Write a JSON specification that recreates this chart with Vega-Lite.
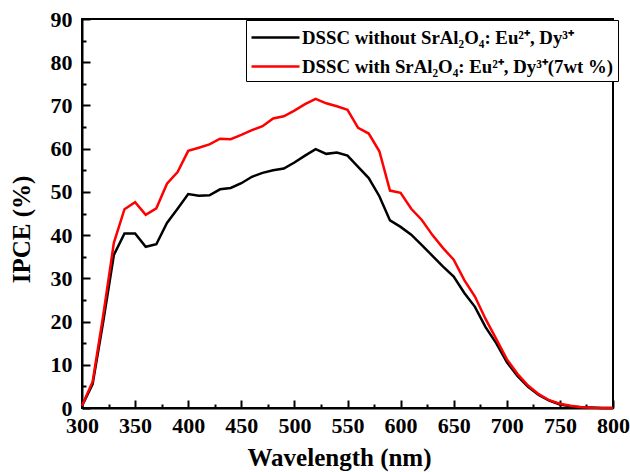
{
  "$schema": "https://vega.github.io/schema/vega-lite/v6.json",
  "width": 531,
  "height": 389,
  "autosize": {"type": "none"},
  "padding": {"left": 82, "top": 19, "right": 17, "bottom": 64},
  "background": "white",
  "config": {
    "view": {"stroke": "black", "strokeWidth": 2},
    "font": "Liberation Serif"
  },
  "datasets": {
    "ipce": [
      {"wl": 300, "v": 0.5, "s": "DSSC without SrAl₂O₄: Eu²⁺, Dy³⁺"},
      {"wl": 310, "v": 5.5, "s": "DSSC without SrAl₂O₄: Eu²⁺, Dy³⁺"},
      {"wl": 320, "v": 20, "s": "DSSC without SrAl₂O₄: Eu²⁺, Dy³⁺"},
      {"wl": 330, "v": 35.4, "s": "DSSC without SrAl₂O₄: Eu²⁺, Dy³⁺"},
      {"wl": 340, "v": 40.4, "s": "DSSC without SrAl₂O₄: Eu²⁺, Dy³⁺"},
      {"wl": 350, "v": 40.4, "s": "DSSC without SrAl₂O₄: Eu²⁺, Dy³⁺"},
      {"wl": 360, "v": 37.3, "s": "DSSC without SrAl₂O₄: Eu²⁺, Dy³⁺"},
      {"wl": 370, "v": 37.9, "s": "DSSC without SrAl₂O₄: Eu²⁺, Dy³⁺"},
      {"wl": 380, "v": 42.8, "s": "DSSC without SrAl₂O₄: Eu²⁺, Dy³⁺"},
      {"wl": 390, "v": 46.1, "s": "DSSC without SrAl₂O₄: Eu²⁺, Dy³⁺"},
      {"wl": 400, "v": 49.5, "s": "DSSC without SrAl₂O₄: Eu²⁺, Dy³⁺"},
      {"wl": 410, "v": 49.1, "s": "DSSC without SrAl₂O₄: Eu²⁺, Dy³⁺"},
      {"wl": 420, "v": 49.2, "s": "DSSC without SrAl₂O₄: Eu²⁺, Dy³⁺"},
      {"wl": 430, "v": 50.6, "s": "DSSC without SrAl₂O₄: Eu²⁺, Dy³⁺"},
      {"wl": 440, "v": 50.9, "s": "DSSC without SrAl₂O₄: Eu²⁺, Dy³⁺"},
      {"wl": 450, "v": 52, "s": "DSSC without SrAl₂O₄: Eu²⁺, Dy³⁺"},
      {"wl": 460, "v": 53.5, "s": "DSSC without SrAl₂O₄: Eu²⁺, Dy³⁺"},
      {"wl": 470, "v": 54.4, "s": "DSSC without SrAl₂O₄: Eu²⁺, Dy³⁺"},
      {"wl": 480, "v": 55, "s": "DSSC without SrAl₂O₄: Eu²⁺, Dy³⁺"},
      {"wl": 490, "v": 55.4, "s": "DSSC without SrAl₂O₄: Eu²⁺, Dy³⁺"},
      {"wl": 500, "v": 56.8, "s": "DSSC without SrAl₂O₄: Eu²⁺, Dy³⁺"},
      {"wl": 510, "v": 58.4, "s": "DSSC without SrAl₂O₄: Eu²⁺, Dy³⁺"},
      {"wl": 520, "v": 59.9, "s": "DSSC without SrAl₂O₄: Eu²⁺, Dy³⁺"},
      {"wl": 530, "v": 58.8, "s": "DSSC without SrAl₂O₄: Eu²⁺, Dy³⁺"},
      {"wl": 540, "v": 59.1, "s": "DSSC without SrAl₂O₄: Eu²⁺, Dy³⁺"},
      {"wl": 550, "v": 58.4, "s": "DSSC without SrAl₂O₄: Eu²⁺, Dy³⁺"},
      {"wl": 560, "v": 55.8, "s": "DSSC without SrAl₂O₄: Eu²⁺, Dy³⁺"},
      {"wl": 570, "v": 53.2, "s": "DSSC without SrAl₂O₄: Eu²⁺, Dy³⁺"},
      {"wl": 580, "v": 49, "s": "DSSC without SrAl₂O₄: Eu²⁺, Dy³⁺"},
      {"wl": 590, "v": 43.4, "s": "DSSC without SrAl₂O₄: Eu²⁺, Dy³⁺"},
      {"wl": 600, "v": 41.9, "s": "DSSC without SrAl₂O₄: Eu²⁺, Dy³⁺"},
      {"wl": 610, "v": 40.1, "s": "DSSC without SrAl₂O₄: Eu²⁺, Dy³⁺"},
      {"wl": 620, "v": 37.7, "s": "DSSC without SrAl₂O₄: Eu²⁺, Dy³⁺"},
      {"wl": 630, "v": 35.2, "s": "DSSC without SrAl₂O₄: Eu²⁺, Dy³⁺"},
      {"wl": 640, "v": 32.7, "s": "DSSC without SrAl₂O₄: Eu²⁺, Dy³⁺"},
      {"wl": 650, "v": 30.4, "s": "DSSC without SrAl₂O₄: Eu²⁺, Dy³⁺"},
      {"wl": 660, "v": 26.6, "s": "DSSC without SrAl₂O₄: Eu²⁺, Dy³⁺"},
      {"wl": 670, "v": 23.4, "s": "DSSC without SrAl₂O₄: Eu²⁺, Dy³⁺"},
      {"wl": 680, "v": 18.7, "s": "DSSC without SrAl₂O₄: Eu²⁺, Dy³⁺"},
      {"wl": 690, "v": 15, "s": "DSSC without SrAl₂O₄: Eu²⁺, Dy³⁺"},
      {"wl": 700, "v": 10.6, "s": "DSSC without SrAl₂O₄: Eu²⁺, Dy³⁺"},
      {"wl": 710, "v": 7.4, "s": "DSSC without SrAl₂O₄: Eu²⁺, Dy³⁺"},
      {"wl": 720, "v": 4.9, "s": "DSSC without SrAl₂O₄: Eu²⁺, Dy³⁺"},
      {"wl": 730, "v": 3, "s": "DSSC without SrAl₂O₄: Eu²⁺, Dy³⁺"},
      {"wl": 740, "v": 1.7, "s": "DSSC without SrAl₂O₄: Eu²⁺, Dy³⁺"},
      {"wl": 750, "v": 0.8, "s": "DSSC without SrAl₂O₄: Eu²⁺, Dy³⁺"},
      {"wl": 760, "v": 0.4, "s": "DSSC without SrAl₂O₄: Eu²⁺, Dy³⁺"},
      {"wl": 770, "v": 0.2, "s": "DSSC without SrAl₂O₄: Eu²⁺, Dy³⁺"},
      {"wl": 780, "v": 0.1, "s": "DSSC without SrAl₂O₄: Eu²⁺, Dy³⁺"},
      {"wl": 790, "v": 0, "s": "DSSC without SrAl₂O₄: Eu²⁺, Dy³⁺"},
      {"wl": 800, "v": 0, "s": "DSSC without SrAl₂O₄: Eu²⁺, Dy³⁺"},
      {"wl": 300, "v": 0.5, "s": "DSSC with SrAl₂O₄: Eu²⁺, Dy³⁺(7wt %)"},
      {"wl": 310, "v": 6.1, "s": "DSSC with SrAl₂O₄: Eu²⁺, Dy³⁺(7wt %)"},
      {"wl": 320, "v": 21.5, "s": "DSSC with SrAl₂O₄: Eu²⁺, Dy³⁺(7wt %)"},
      {"wl": 330, "v": 38.2, "s": "DSSC with SrAl₂O₄: Eu²⁺, Dy³⁺(7wt %)"},
      {"wl": 340, "v": 46, "s": "DSSC with SrAl₂O₄: Eu²⁺, Dy³⁺(7wt %)"},
      {"wl": 350, "v": 47.6, "s": "DSSC with SrAl₂O₄: Eu²⁺, Dy³⁺(7wt %)"},
      {"wl": 360, "v": 44.7, "s": "DSSC with SrAl₂O₄: Eu²⁺, Dy³⁺(7wt %)"},
      {"wl": 370, "v": 46.2, "s": "DSSC with SrAl₂O₄: Eu²⁺, Dy³⁺(7wt %)"},
      {"wl": 380, "v": 51.9, "s": "DSSC with SrAl₂O₄: Eu²⁺, Dy³⁺(7wt %)"},
      {"wl": 390, "v": 54.6, "s": "DSSC with SrAl₂O₄: Eu²⁺, Dy³⁺(7wt %)"},
      {"wl": 400, "v": 59.5, "s": "DSSC with SrAl₂O₄: Eu²⁺, Dy³⁺(7wt %)"},
      {"wl": 410, "v": 60.2, "s": "DSSC with SrAl₂O₄: Eu²⁺, Dy³⁺(7wt %)"},
      {"wl": 420, "v": 61, "s": "DSSC with SrAl₂O₄: Eu²⁺, Dy³⁺(7wt %)"},
      {"wl": 430, "v": 62.3, "s": "DSSC with SrAl₂O₄: Eu²⁺, Dy³⁺(7wt %)"},
      {"wl": 440, "v": 62.2, "s": "DSSC with SrAl₂O₄: Eu²⁺, Dy³⁺(7wt %)"},
      {"wl": 450, "v": 63.2, "s": "DSSC with SrAl₂O₄: Eu²⁺, Dy³⁺(7wt %)"},
      {"wl": 460, "v": 64.3, "s": "DSSC with SrAl₂O₄: Eu²⁺, Dy³⁺(7wt %)"},
      {"wl": 470, "v": 65.2, "s": "DSSC with SrAl₂O₄: Eu²⁺, Dy³⁺(7wt %)"},
      {"wl": 480, "v": 67, "s": "DSSC with SrAl₂O₄: Eu²⁺, Dy³⁺(7wt %)"},
      {"wl": 490, "v": 67.5, "s": "DSSC with SrAl₂O₄: Eu²⁺, Dy³⁺(7wt %)"},
      {"wl": 500, "v": 68.8, "s": "DSSC with SrAl₂O₄: Eu²⁺, Dy³⁺(7wt %)"},
      {"wl": 510, "v": 70.3, "s": "DSSC with SrAl₂O₄: Eu²⁺, Dy³⁺(7wt %)"},
      {"wl": 520, "v": 71.5, "s": "DSSC with SrAl₂O₄: Eu²⁺, Dy³⁺(7wt %)"},
      {"wl": 530, "v": 70.5, "s": "DSSC with SrAl₂O₄: Eu²⁺, Dy³⁺(7wt %)"},
      {"wl": 540, "v": 69.8, "s": "DSSC with SrAl₂O₄: Eu²⁺, Dy³⁺(7wt %)"},
      {"wl": 550, "v": 69, "s": "DSSC with SrAl₂O₄: Eu²⁺, Dy³⁺(7wt %)"},
      {"wl": 560, "v": 64.8, "s": "DSSC with SrAl₂O₄: Eu²⁺, Dy³⁺(7wt %)"},
      {"wl": 570, "v": 63.5, "s": "DSSC with SrAl₂O₄: Eu²⁺, Dy³⁺(7wt %)"},
      {"wl": 580, "v": 59.4, "s": "DSSC with SrAl₂O₄: Eu²⁺, Dy³⁺(7wt %)"},
      {"wl": 590, "v": 50.3, "s": "DSSC with SrAl₂O₄: Eu²⁺, Dy³⁺(7wt %)"},
      {"wl": 600, "v": 49.8, "s": "DSSC with SrAl₂O₄: Eu²⁺, Dy³⁺(7wt %)"},
      {"wl": 610, "v": 46.1, "s": "DSSC with SrAl₂O₄: Eu²⁺, Dy³⁺(7wt %)"},
      {"wl": 620, "v": 43.5, "s": "DSSC with SrAl₂O₄: Eu²⁺, Dy³⁺(7wt %)"},
      {"wl": 630, "v": 40, "s": "DSSC with SrAl₂O₄: Eu²⁺, Dy³⁺(7wt %)"},
      {"wl": 640, "v": 37, "s": "DSSC with SrAl₂O₄: Eu²⁺, Dy³⁺(7wt %)"},
      {"wl": 650, "v": 34.3, "s": "DSSC with SrAl₂O₄: Eu²⁺, Dy³⁺(7wt %)"},
      {"wl": 660, "v": 29.6, "s": "DSSC with SrAl₂O₄: Eu²⁺, Dy³⁺(7wt %)"},
      {"wl": 670, "v": 25.8, "s": "DSSC with SrAl₂O₄: Eu²⁺, Dy³⁺(7wt %)"},
      {"wl": 680, "v": 20.6, "s": "DSSC with SrAl₂O₄: Eu²⁺, Dy³⁺(7wt %)"},
      {"wl": 690, "v": 16, "s": "DSSC with SrAl₂O₄: Eu²⁺, Dy³⁺(7wt %)"},
      {"wl": 700, "v": 11.3, "s": "DSSC with SrAl₂O₄: Eu²⁺, Dy³⁺(7wt %)"},
      {"wl": 710, "v": 7.9, "s": "DSSC with SrAl₂O₄: Eu²⁺, Dy³⁺(7wt %)"},
      {"wl": 720, "v": 5.2, "s": "DSSC with SrAl₂O₄: Eu²⁺, Dy³⁺(7wt %)"},
      {"wl": 730, "v": 3.2, "s": "DSSC with SrAl₂O₄: Eu²⁺, Dy³⁺(7wt %)"},
      {"wl": 740, "v": 1.8, "s": "DSSC with SrAl₂O₄: Eu²⁺, Dy³⁺(7wt %)"},
      {"wl": 750, "v": 1, "s": "DSSC with SrAl₂O₄: Eu²⁺, Dy³⁺(7wt %)"},
      {"wl": 760, "v": 0.5, "s": "DSSC with SrAl₂O₄: Eu²⁺, Dy³⁺(7wt %)"},
      {"wl": 770, "v": 0.2, "s": "DSSC with SrAl₂O₄: Eu²⁺, Dy³⁺(7wt %)"},
      {"wl": 780, "v": 0.05, "s": "DSSC with SrAl₂O₄: Eu²⁺, Dy³⁺(7wt %)"},
      {"wl": 790, "v": 0, "s": "DSSC with SrAl₂O₄: Eu²⁺, Dy³⁺(7wt %)"},
      {"wl": 800, "v": 0, "s": "DSSC with SrAl₂O₄: Eu²⁺, Dy³⁺(7wt %)"}
    ]
  },
  "data": {"name": "ipce"},
  "layer": [
    {
      "mark": {"type": "point", "opacity": 0},
      "encoding": {
        "x": {
          "field": "wl", "type": "quantitative",
          "scale": {"domain": [300, 800], "nice": false, "zero": false},
          "axis": {
            "orient": "bottom",
            "values": [325, 375, 425, 475, 525, 575, 625, 675, 725, 775],
            "labels": false, "domain": false, "grid": false, "title": null,
            "tickSize": -4, "tickWidth": 2, "tickColor": "black"
          }
        },
        "y": {
          "field": "v", "type": "quantitative",
          "scale": {"domain": [0, 90], "nice": false, "zero": false},
          "axis": {
            "orient": "left",
            "values": [5, 15, 25, 35, 45, 55, 65, 75, 85],
            "labels": false, "domain": false, "grid": false, "title": null,
            "tickSize": -4, "tickWidth": 2, "tickColor": "black"
          }
        }
      }
    },
    {
      "mark": {"type": "line", "strokeWidth": 2.5},
      "encoding": {
        "x": {
          "field": "wl", "type": "quantitative",
          "scale": {"domain": [300, 800], "nice": false, "zero": false},
          "axis": {
            "orient": "bottom",
            "values": [300, 350, 400, 450, 500, 550, 600, 650, 700, 750, 800],
            "grid": false, "domain": true, "domainColor": "black", "domainWidth": 2,
            "tickSize": -8, "tickWidth": 2, "tickColor": "black",
            "labelFont": "Liberation Serif", "labelFontWeight": "bold", "labelFontSize": 22, "labelColor": "black",
            "labelPadding": 15, "labelFlush": false,
            "title": "Wavelength (nm)",
            "titleFont": "Liberation Serif", "titleFontWeight": "bold", "titleFontSize": 25, "titleColor": "black",
            "titlePadding": 9,
            "titleX": 257
          }
        },
        "y": {
          "field": "v", "type": "quantitative",
          "scale": {"domain": [0, 90], "nice": false, "zero": false},
          "axis": {
            "orient": "left",
            "values": [0, 10, 20, 30, 40, 50, 60, 70, 80, 90],
            "grid": false, "domain": true, "domainColor": "black", "domainWidth": 2,
            "tickSize": -8, "tickWidth": 2, "tickColor": "black",
            "labelFont": "Liberation Serif", "labelFontWeight": "bold", "labelFontSize": 22, "labelColor": "black",
            "labelPadding": 18, "labelFlush": false,
            "title": "IPCE (%)",
            "titleFont": "Liberation Serif", "titleFontWeight": "bold", "titleFontSize": 25, "titleColor": "black",
            "titlePadding": 16,
            "titleY": 210
          }
        },
        "color": {
          "field": "s", "type": "nominal",
          "scale": {
            "domain": ["DSSC without SrAl₂O₄: Eu²⁺, Dy³⁺", "DSSC with SrAl₂O₄: Eu²⁺, Dy³⁺(7wt %)"],
            "range": ["#000000", "#ff0000"]
          },
          "legend": {
            "title": null,
            "orient": "none",
            "legendX": 164,
            "legendY": 1,
            "symbolType": "M-2,0H2",
            "symbolSize": 576,
            "symbolStrokeWidth": 2.5,
            "symbolOffset": 12,
            "labelFont": "Liberation Serif",
            "labelFontWeight": "bold",
            "labelFontSize": 18.8,
            "labelColor": "black",
            "labelLimit": 0,
            "labelOffset": 13,
            "strokeColor": "black",
            "padding": 4,
            "rowPadding": 5,
            "fillColor": "white"
          }
        }
      }
    }
  ],
  "resolve": {"axis": {"x": "independent", "y": "independent"}}
}
